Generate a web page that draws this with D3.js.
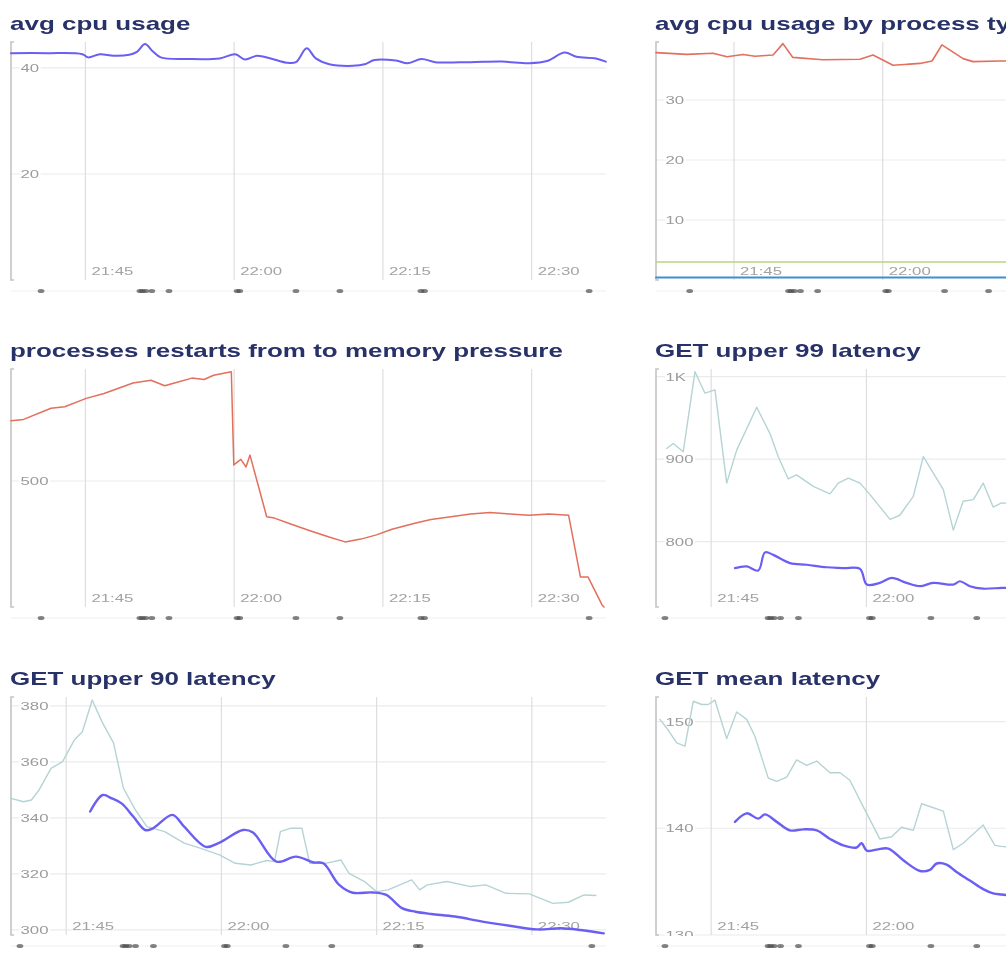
<!DOCTYPE html>
<html><head><meta charset="utf-8">
<script src="https://cdn.jsdelivr.net/npm/d3@7"></script>
<style>
html,body{margin:0;padding:0;background:#fff;overflow:hidden}
svg{display:block}
</style></head><body>
<svg id="c" width="1006" height="967"></svg>
<script>
// ---------------- data ----------------
const titles = ["avg cpu usage", "avg cpu usage by process type", "processes restarts from to memory pressure",
  "GET upper 99 latency", "GET upper 90 latency", "GET mean latency"];
const xTickLabels = ["21:45", "22:00", "22:15", "22:30"];
const eventTimes = ["21:40:32","21:50:30","21:50:45","21:51:05","21:51:42","21:53:26","22:00:18","22:00:34",
  "22:06:14","22:10:40","22:18:50","22:19:12","22:35:48"];

const cpuTickValues = [20, 40];
const cpuTimes = ["21:37:30","21:41:08","21:44:42","21:45:17","21:46:28","21:47:51","21:49:26","21:50:14","21:51:01",
  "21:51:49","21:52:36","21:55:21","21:58:32","22:00:07","22:01:06","22:02:18","22:03:41","22:05:16","22:06:14",
  "22:07:19","22:08:14","22:09:36","22:11:59","22:13:10","22:14:09","22:16:19","22:17:31","22:18:54","22:20:17",
  "22:23:50","22:27:01","22:29:46","22:31:33","22:33:20","22:34:31","22:36:29","22:37:29"];
const cpuValues = [42.8,42.8,42.6,42.0,42.6,42.3,42.5,43.1,44.5,43.1,42.0,41.7,41.8,42.6,41.6,42.3,41.8,41.0,41.1,
  43.7,41.8,40.7,40.4,40.7,41.5,41.4,40.9,41.7,41.1,41.1,41.2,40.9,41.3,42.9,42.1,41.8,41.2];

const byTypeTickValues = [10, 20, 30];
const byTypeTimes = ["21:37:08","21:40:14","21:42:53","21:44:18","21:45:54","21:47:07","21:48:56","21:49:56","21:50:56",
  "21:53:58","21:57:42","21:59:01","22:01:02","22:03:45","22:04:58","22:05:58","22:08:06","22:09:06","22:11:49","22:13:02"];
const byTypeRedValues = [37.9,37.6,37.8,37.2,37.6,37.3,37.5,39.4,37.1,36.7,36.8,37.5,35.8,36.1,36.5,39.2,36.9,36.4,36.5,36.5];
const byTypeFlatTimes = ["21:37:08","21:50:00","22:00:00","22:13:02"];
const byTypeGreenValues = [3.0, 3.0, 3.0, 3.0];
const byTypeBlueValues = [0.4, 0.4, 0.4, 0.4];

const restartTickValues = [500];
const restartTimes = ["21:37:30","21:38:46","21:41:32","21:42:55","21:45:05","21:46:53","21:49:48","21:51:37","21:53:00",
  "21:53:59","21:55:45","21:56:58","21:57:56","21:59:43","21:59:58","22:00:41","22:01:12","22:01:36","22:03:17",
  "22:04:04","22:05:38","22:07:39","22:09:34","22:11:11","22:12:47","22:14:21","22:15:55","22:18:19","22:19:51",
  "22:21:52","22:23:51","22:25:48","22:27:49","22:29:44","22:31:45","22:33:44","22:34:55","22:35:41","22:37:06","22:37:18"];
const restartValues = [586,588,604,606,618,625,640,644,636,640,647,645,651,656,523,531,520,537,449,447,
  439,429,420,413,417,423,431,440,445,449,453,455,453,451,453,451,363,363,323,320];

const p99TickValues = [800, 900, 1000];
const p99TickLabels = ["800", "900", "1K"];
const p99PrevTimes = ["21:40:42","21:41:20","21:42:18","21:43:26","21:44:24","21:45:22","21:46:30","21:47:28","21:49:24",
  "21:50:41","21:51:29","21:52:27","21:53:15","21:54:52","21:56:29","21:57:17","21:58:15","21:59:23","22:00:21",
  "22:02:17","22:03:14","22:04:32","22:05:30","22:07:26","22:08:24","22:09:21","22:10:20","22:11:17","22:12:15",
  "22:13:04","22:14:04"];
const p99PrevValues = [913,919,909,1006,980,984,871,911,963,931,903,876,881,867,858,871,877,871,857,827,
  832,855,903,863,814,849,851,871,842,847,846];
const p99Times = ["21:47:18","21:48:26","21:49:33","21:50:12","21:51:00","21:52:37","21:54:14","21:56:09","21:57:46",
  "21:59:23","22:00:02","22:01:18","22:02:26","22:03:53","22:05:11","22:06:27","22:08:24","22:09:02","22:10:00",
  "22:11:17","22:13:04","22:14:04"];
const p99Values = [768,770,765,787,784,774,772,769,768,767,748,750,756,750,746,750,748,752,746,743,744,744];

const p90TickValues = [300, 320, 340, 360, 380];
const p90PrevTimes = ["21:39:40","21:40:53","21:41:38","21:42:23","21:43:32","21:44:39","21:45:48","21:46:34","21:47:31",
  "21:48:27","21:49:35","21:50:32","21:51:41","21:52:48","21:54:31","21:56:24","21:57:56","21:59:49","22:01:20",
  "22:02:51","22:04:23","22:05:08","22:05:42","22:06:39","22:07:47","22:08:32","22:10:03","22:11:33","22:12:20",
  "22:13:50","22:14:59","22:16:06","22:18:23","22:19:09","22:19:54","22:21:48","22:24:05","22:25:33","22:27:30",
  "22:29:45","22:32:02","22:33:32","22:35:03","22:36:11"];
const p90PrevValues = [347.0,345.8,346.4,350.0,357.7,360.1,367.9,370.8,382.1,374.4,366.7,350.6,342.9,336.9,335.1,
  331.0,329.2,326.8,323.8,323.2,324.8,324.4,335.1,336.3,336.3,323.8,323.8,325.0,320.2,317.3,313.7,314.3,317.9,
  314.3,316.1,317.3,315.5,316.1,313.1,312.9,309.5,309.9,312.5,312.3];
const p90Times = ["21:47:19","21:48:32","21:49:24","21:50:21","21:51:29","21:52:38","21:53:23","21:55:16","21:56:24",
  "21:58:30","21:59:49","22:02:05","22:03:03","22:05:19","22:07:12","22:08:55","22:09:51","22:11:23","22:12:42",
  "22:14:36","22:15:56","22:17:27","22:18:46","22:20:17","22:22:34","22:25:13","22:27:51","22:30:31","22:32:47",
  "22:34:41","22:36:57"];
const p90Values = [342.3,348.2,347.0,345.2,340.5,335.7,336.3,341.1,336.9,329.7,331.2,335.7,334.8,324.4,326.2,
  324.1,323.8,316.1,313.3,313.4,312.5,307.8,306.5,305.7,304.8,303.0,301.5,300.2,300.6,300.0,298.8];

const meanTickValues = [130, 140, 150];
const meanPrevTimes = ["21:40:03","21:40:42","21:41:40","21:42:28","21:43:16","21:44:05","21:44:43","21:45:22","21:46:30",
  "21:47:28","21:48:26","21:49:14","21:50:31","21:51:20","21:52:18","21:53:15","21:54:14","21:55:12","21:56:29",
  "21:57:27","21:58:24","21:59:42","22:01:18","22:02:26","22:03:24","22:04:32","22:05:20","22:07:26","22:08:24",
  "22:09:21","22:11:17","22:12:25","22:13:04","22:14:04"];
const meanPrevValues = [150.2,149.4,148.0,147.7,151.9,151.6,151.6,152.0,148.4,150.9,150.2,148.6,144.7,144.4,144.8,
  146.4,145.9,146.3,145.2,145.2,144.5,142.0,139.0,139.2,140.1,139.8,142.3,141.6,138.0,138.6,140.3,138.4,138.3,138.2];
const meanTimes = ["21:47:18","21:48:26","21:49:33","21:50:12","21:51:20","21:52:37","21:53:54","21:55:12","21:56:29",
  "21:57:46","21:59:03","21:59:32","22:00:02","22:00:59","22:02:07","22:03:34","22:05:11","22:06:08","22:06:47",
  "22:07:45","22:08:43","22:10:00","22:11:17","22:12:15","22:13:04","22:14:04"];
const meanValues = [140.6,141.4,140.9,141.3,140.6,139.8,139.9,139.8,139.0,138.4,138.2,138.6,137.9,138.0,138.1,
  137.0,136.0,136.1,136.7,136.6,135.9,135.1,134.3,133.9,133.8,133.7];

// ---------------- layout / style ----------------
const parse = d3.timeParse("%H:%M:%S");
const parseHM = d3.timeParse("%H:%M");
const SX = 1.46;                 // horizontal text stretch of the reference
const SX_TITLE = 1.485;
const FONT = "'Liberation Sans', Arial, Helvetica, sans-serif";
const COLS = [11, 656];
const ROWS = [[42, 280], [369, 607], [697, 935]];
const PLOT_W = 595;
const BLUE = "#6a5ff2", RED = "#e26f5c", TEAL = "#b6d3d4", GREEN = "#b9d77d", DBLUE = "#3c8fcf";

const pair = (ts, vs) => ts.map((t, i) => ({t: parse(t), v: vs[i]}));

const panels = [
  {title: titles[0], col: 0, row: 0, xDom: ["21:37:30", "22:37:30"], yDom: [0, 44.9],
   ticks: cpuTickValues, labels: cpuTickValues.map(String),
   series: [{d: pair(cpuTimes, cpuValues), c: BLUE, w: 2, curve: d3.curveCatmullRom}]},
  {title: titles[1], col: 1, row: 0, xDom: ["21:37:08", "22:37:08"], yDom: [0, 39.67],
   ticks: byTypeTickValues, labels: byTypeTickValues.map(String),
   series: [{d: pair(byTypeFlatTimes, byTypeGreenValues), c: GREEN, w: 1.5, curve: d3.curveLinear},
            {d: pair(byTypeFlatTimes, byTypeBlueValues), c: DBLUE, w: 2, curve: d3.curveLinear},
            {d: pair(byTypeTimes, byTypeRedValues), c: RED, w: 1.6, curve: d3.curveLinear}]},
  {title: titles[2], col: 0, row: 1, xDom: ["21:37:30", "22:37:30"], yDom: [320, 660],
   ticks: restartTickValues, labels: restartTickValues.map(String),
   series: [{d: pair(restartTimes, restartValues), c: RED, w: 1.5, curve: d3.curveLinear}]},
  {title: titles[3], col: 1, row: 1, xDom: ["21:39:40", "22:37:10"], yDom: [720.8, 1009.3],
   ticks: p99TickValues, labels: p99TickLabels,
   series: [{d: pair(p99PrevTimes, p99PrevValues), c: TEAL, w: 1.4, curve: d3.curveLinear},
            {d: pair(p99Times, p99Values), c: BLUE, w: 2.2, curve: d3.curveCatmullRom}]},
  {title: titles[4], col: 0, row: 2, xDom: ["21:39:40", "22:37:10"], yDom: [298.2, 383.2],
   ticks: p90TickValues, labels: p90TickValues.map(String),
   series: [{d: pair(p90PrevTimes, p90PrevValues), c: TEAL, w: 1.4, curve: d3.curveLinear},
            {d: pair(p90Times, p90Values), c: BLUE, w: 2.4, curve: d3.curveCatmullRom}]},
  {title: titles[5], col: 1, row: 2, xDom: ["21:39:40", "22:37:10"], yDom: [130, 152.3],
   ticks: meanTickValues, labels: meanTickValues.map(String),
   series: [{d: pair(meanPrevTimes, meanPrevValues), c: TEAL, w: 1.4, curve: d3.curveLinear},
            {d: pair(meanTimes, meanValues), c: BLUE, w: 2.4, curve: d3.curveCatmullRom}]}
];

const svg = d3.select("#c");
const defs = svg.append("defs");
defs.append("filter").attr("id", "soft").attr("x", "-5%").attr("y", "-5%").attr("width", "110%").attr("height", "110%")
  .append("feGaussianBlur").attr("stdDeviation", 0.45);
const root = svg.append("g").attr("filter", "url(#soft)");
root.append("rect").attr("width", 1006).attr("height", 967).attr("fill", "#fff");

function txt(g, x, y, s, o) {
  return g.append("text")
    .attr("transform", `translate(${x},${y}) scale(${o.sx || SX},1)`)
    .attr("font-family", FONT).attr("font-size", o.size)
    .attr("font-weight", o.weight || "normal").attr("fill", o.color)
    .attr("text-anchor", o.anchor || "start").text(s);
}

panels.forEach((p, pi) => {
  const x0 = COLS[p.col], [top, bottom] = ROWS[p.row];
  const x = d3.scaleTime().domain(p.xDom.map(parse)).range([x0, x0 + PLOT_W]);
  const y = d3.scaleLinear().domain(p.yDom).range([bottom, top]);
  const g = root.append("g");

  const clipId = "clip" + pi;
  defs.append("clipPath").attr("id", clipId).append("rect")
    .attr("x", x0 - 20).attr("y", top - 20).attr("width", PLOT_W + 40).attr("height", bottom - top + 21);

  // horizontal grid
  g.append("g").selectAll("line").data(p.ticks).join("line")
    .attr("x1", x0).attr("x2", x0 + PLOT_W)
    .attr("y1", d => y(d)).attr("y2", d => y(d))
    .attr("stroke", "#ebebeb").attr("stroke-width", 1.2);

  // vertical grid at x ticks
  const xt = xTickLabels.map(s => parse(d3.timeFormat("%H:%M:%S")(parseHM(s))));
  const visible = xt.map((t, i) => ({t, i})).filter(o => x(o.t) + 30 < 1006);
  g.append("g").selectAll("line").data(visible).join("line")
    .attr("x1", d => x(d.t)).attr("x2", d => x(d.t))
    .attr("y1", top).attr("y2", bottom)
    .attr("stroke", "#dedede").attr("stroke-width", 1.2);

  // left axis bracket
  g.append("path")
    .attr("d", `M${x0 + 3},${top}H${x0}V${bottom}H${x0 + 3}`)
    .attr("fill", "none").attr("stroke", "#c4c4c4").attr("stroke-width", 1.6);

  // event strip
  const ey = bottom + 11;
  g.append("line").attr("x1", x0).attr("x2", Math.min(x0 + PLOT_W, 1006)).attr("y1", ey).attr("y2", ey)
    .attr("stroke", "#efefef").attr("stroke-width", 1.2);
  g.append("g").selectAll("ellipse").data(eventTimes.map(parse).filter(t => x(t) < 1003)).join("ellipse")
    .attr("cx", d => x(d)).attr("cy", ey).attr("rx", 3.4).attr("ry", 2.1)
    .attr("fill", "#4d4d4d").attr("fill-opacity", 0.7);

  // y labels (halo hides grid under them)
  const yl = g.append("g").attr("clip-path", `url(#${clipId})`);
  p.ticks.forEach((t, i) => {
    txt(yl, x0 + 9.5, y(t) + 4, p.labels[i], {size: 11.5, color: "#9b9b9b"})
      .attr("stroke", "#fff").attr("stroke-width", 3).attr("paint-order", "stroke");
  });
  // x labels
  visible.forEach(o => {
    txt(g, x(o.t) + 6, bottom - 5, xTickLabels[o.i], {size: 11.5, color: "#a3a3a3"});
  });

  // series
  p.series.forEach(s => {
    const line = d3.line().x(d => x(d.t)).y(d => y(d.v)).curve(s.curve);
    g.append("path").datum(s.d).attr("d", line)
      .attr("fill", "none").attr("stroke", s.c).attr("stroke-width", s.w)
      .attr("stroke-linejoin", "round").attr("stroke-linecap", "round");
  });

  // title
  txt(g, x0 - 1, top - 12.5, p.title, {size: 17.5, weight: "bold", color: "#283068", sx: SX_TITLE});
});
</script>
</body></html>
